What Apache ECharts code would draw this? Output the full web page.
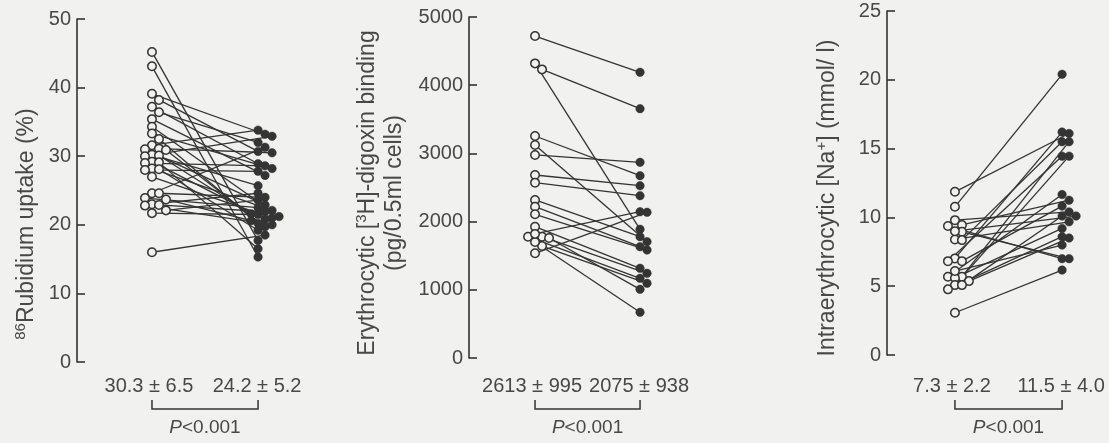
<!DOCTYPE html>
<html>
<head>
<meta charset="utf-8">
<script src="https://cdn.jsdelivr.net/npm/echarts@6/dist/echarts.min.js"></script>
<style>
  html, body { margin: 0; padding: 0; background: #f1f1ef; }
  #chart { width: 1109px; height: 443px; }
</style>
</head>
<body>
<div id="chart"></div>
<script>
// Paired measurements per subject: first entry = open circle, second = filled dot.

// 86Rb uptake (%)
const rubidiumBefore = [45.2, 43.1, 39.1, 38.2, 37.2, 36.4, 35.4, 34.3, 33.3, 32.5,
  31.6, 31.1, 31.0, 30.9, 30.2, 30.1, 30.0, 29.2, 29.1, 29.0, 28.2, 28.1, 28.0, 27.0,
  24.6, 24.6, 23.9, 23.7, 23.0, 22.9, 22.8, 22.1, 21.7, 16.0];
const rubidiumAfter = [17.7, 15.3, 33.2, 30.7, 28.9, 32.0, 27.2, 21.2, 28.2, 20.2,
  33.8, 30.5, 22.9, 19.7, 25.7, 21.6, 32.9, 20.8, 16.5, 28.6, 22.1, 19.2, 27.8, 21.0,
  31.3, 24.0, 22.5, 20.6, 24.6, 21.9, 20.0, 23.6, 21.5, 18.5];

// Erythrocytic [3H]-digoxin binding (pg/0.5 ml cells)
const digoxinBefore = [4721, 4320, 4232, 3255, 3123, 2977, 2683, 2571, 2317, 2219,
  2107, 1925, 1779, 1779, 1642, 1535, 1760, 1700, 1820];
const digoxinAfter = [4189, 1887, 3656, 2673, 1706, 2869, 2526, 2380, 1779, 1632,
  1584, 1315, 1242, 1168, 1095, 2136, 1007, 670, 2145];

// Intraerythrocytic [Na+] (mmol/l)
const sodiumBefore = [11.86, 10.77, 9.80, 9.45, 9.37, 8.95, 8.40, 8.35, 7.02, 6.82,
  6.82, 5.69, 5.69, 5.60, 5.37, 5.08, 5.08, 4.77, 3.07, 6.10, 9.00];
const sodiumAfter = [16.1, 20.4, 10.4, 11.25, 7.0, 7.0, 9.68, 15.5, 16.2, 10.82,
  14.45, 15.5, 11.66, 9.2, 8.5, 14.45, 10.1, 8.6, 6.17, 7.99, 10.1];

// Axis ticks
const rubidiumTicks = { max: 50, interval: 10 };
const digoxinTicks = { max: 5000, interval: 1000 };
const sodiumTicks = { max: 25, interval: 5 };

// Mean ± SD labels under each panel
const rubidiumSummary = ['30.3 ± 6.5', '24.2 ± 5.2'];
const digoxinSummary = ['2613 ± 995', '2075 ± 938'];
const sodiumSummary = ['7.3 ± 2.2', '11.5 ± 4.0'];
const pValueText = '<0.001';

const INK = '#343434';
const TEXT = '#484848';
const PAPER = '#f1f1ef';
const FONT = '"Liberation Sans", Arial, Helvetica, sans-serif';
const GRID_W = 213;

const panels = [
  { before: rubidiumBefore, after: rubidiumAfter, ticks: rubidiumTicks, summary: rubidiumSummary,
    left: 77, top: 19, height: 343, colB: 35.2, colA: 85.0 },
  { before: digoxinBefore, after: digoxinAfter, ticks: digoxinTicks, summary: digoxinSummary,
    left: 469, top: 17, height: 341, colB: 31.0, colA: 80.3 },
  { before: sodiumBefore, after: sodiumAfter, ticks: sodiumTicks, summary: sodiumSummary,
    left: 887, top: 11, height: 344, colB: 31.9, colA: 82.2 }
];

// Spread overlapping markers sideways (simple beeswarm in pixel space).
function dodge(values, unitPx, step, minDist, order) {
  const idx = values.map((_, i) => i).sort((a, b) => values[b] - values[a]);
  const placed = [];
  const out = [];
  idx.forEach(i => {
    const y = values[i] * unitPx;
    let chosen = order[order.length - 1] * step;
    for (const k of order) {
      const x = k * step;
      if (placed.every(p => Math.hypot(p.x - x, p.y - y) >= minDist)) { chosen = x; break; }
    }
    placed.push({ x: chosen, y: y });
    out[i] = chosen;
  });
  return out;
}

const grids = [], xAxes = [], yAxes = [], series = [];

panels.forEach((p, g) => {
  grids.push({ left: p.left, top: p.top, width: GRID_W, height: p.height, outerBoundsMode: 'none' });
  xAxes.push({ gridIndex: g, type: 'value', min: 0, max: 100, show: false });
  yAxes.push({
    gridIndex: g, type: 'value', min: 0, max: p.ticks.max, interval: p.ticks.interval,
    axisLine: { show: true, lineStyle: { color: INK, width: 1.6 } },
    axisTick: { show: true, inside: true, length: 8, lineStyle: { color: INK, width: 1.6 } },
    axisLabel: { color: TEXT, fontSize: 20, fontFamily: FONT, margin: 6, formatter: v => String(v) },
    splitLine: { show: false }
  });

  const unitPx = p.height / p.ticks.max;
  const toX = px => px / GRID_W * 100;
  const offB = dodge(p.before, unitPx, 7, 6.2, [0, 1, -1, 2, -2, 3, -3]);
  const offA = dodge(p.after, unitPx, 7, 6.5, [0, 1, 2, -1, 3, -2, 4]);

  const ptsB = p.before.map((v, i) => [p.colB + toX(offB[i]), v]);
  const ptsA = p.after.map((v, i) => [p.colA + toX(offA[i]), v]);

  series.push({
    type: 'lines', coordinateSystem: 'cartesian2d', xAxisIndex: g, yAxisIndex: g,
    silent: true, z: 1,
    lineStyle: { color: INK, width: 1.3, opacity: 1 },
    data: ptsB.map((b, i) => ({ coords: [b, ptsA[i]] }))
  });
  series.push({
    type: 'scatter', xAxisIndex: g, yAxisIndex: g, silent: true, z: 3,
    symbol: 'circle', symbolSize: 8.5,
    itemStyle: { color: PAPER, borderColor: INK, borderWidth: 1.5, opacity: 1 },
    data: ptsB
  });
  series.push({
    type: 'scatter', xAxisIndex: g, yAxisIndex: g, silent: true, z: 4,
    symbol: 'circle', symbolSize: 8.5,
    itemStyle: { color: INK, borderColor: INK, borderWidth: 0.5, opacity: 1 },
    data: ptsA
  });
});

const sup = { fontSize: 15, lineHeight: 15, verticalAlign: 'top', fill: TEXT, fontFamily: FONT };
const main = { fontSize: 23, lineHeight: 27, fill: TEXT, fontFamily: FONT };

const graphics = [
  { type: 'text', x: 27, y: 224, rotation: Math.PI / 2,
    style: { text: '{s|86}{t|Rubidium uptake (%)}', rich: { s: sup, t: main },
             align: 'center', verticalAlign: 'middle', fill: TEXT } },
  { type: 'text', x: 381, y: 193, rotation: Math.PI / 2,
    style: { text: '{t|Erythrocytic [}{s|3}{t|H]-digoxin binding}\n{t|(pg/0.5ml cells)}',
             rich: { s: sup, t: main }, align: 'center', verticalAlign: 'middle', fill: TEXT } },
  { type: 'text', x: 828, y: 198, rotation: Math.PI / 2,
    style: { text: '{t|Intraerythrocytic [Na}{s|+}{t|] (mmol/ l)}', rich: { s: sup, t: main },
             align: 'center', verticalAlign: 'middle', fill: TEXT } }
];

panels.forEach(p => {
  const xb = p.left + p.colB / 100 * GRID_W;
  const xa = p.left + p.colA / 100 * GRID_W;
  graphics.push({ type: 'text', x: xb - 3, y: 386,
    style: { text: p.summary[0], font: '20px ' + FONT, fill: TEXT, align: 'center', verticalAlign: 'middle' } });
  graphics.push({ type: 'text', x: xa - 1, y: 386,
    style: { text: p.summary[1], font: '20px ' + FONT, fill: TEXT, align: 'center', verticalAlign: 'middle' } });
  graphics.push({ type: 'polyline',
    shape: { points: [[xb, 400], [xb, 409], [xa, 409], [xa, 400]] },
    style: { stroke: INK, lineWidth: 1.5, fill: null } });
  graphics.push({ type: 'text', x: (xb + xa) / 2, y: 428,
    style: { text: '{i|P}{n|' + pValueText + '}',
             rich: { i: { fontSize: 19, fontStyle: 'italic', fill: TEXT, fontFamily: FONT },
                     n: { fontSize: 19, fill: TEXT, fontFamily: FONT } },
             align: 'center', verticalAlign: 'middle' } });
});

const chart = echarts.init(document.getElementById('chart'));
chart.setOption({
  backgroundColor: PAPER,
  animation: false,
  grid: grids,
  xAxis: xAxes,
  yAxis: yAxes,
  series: series,
  graphic: { elements: graphics }
});
</script>
</body>
</html>
